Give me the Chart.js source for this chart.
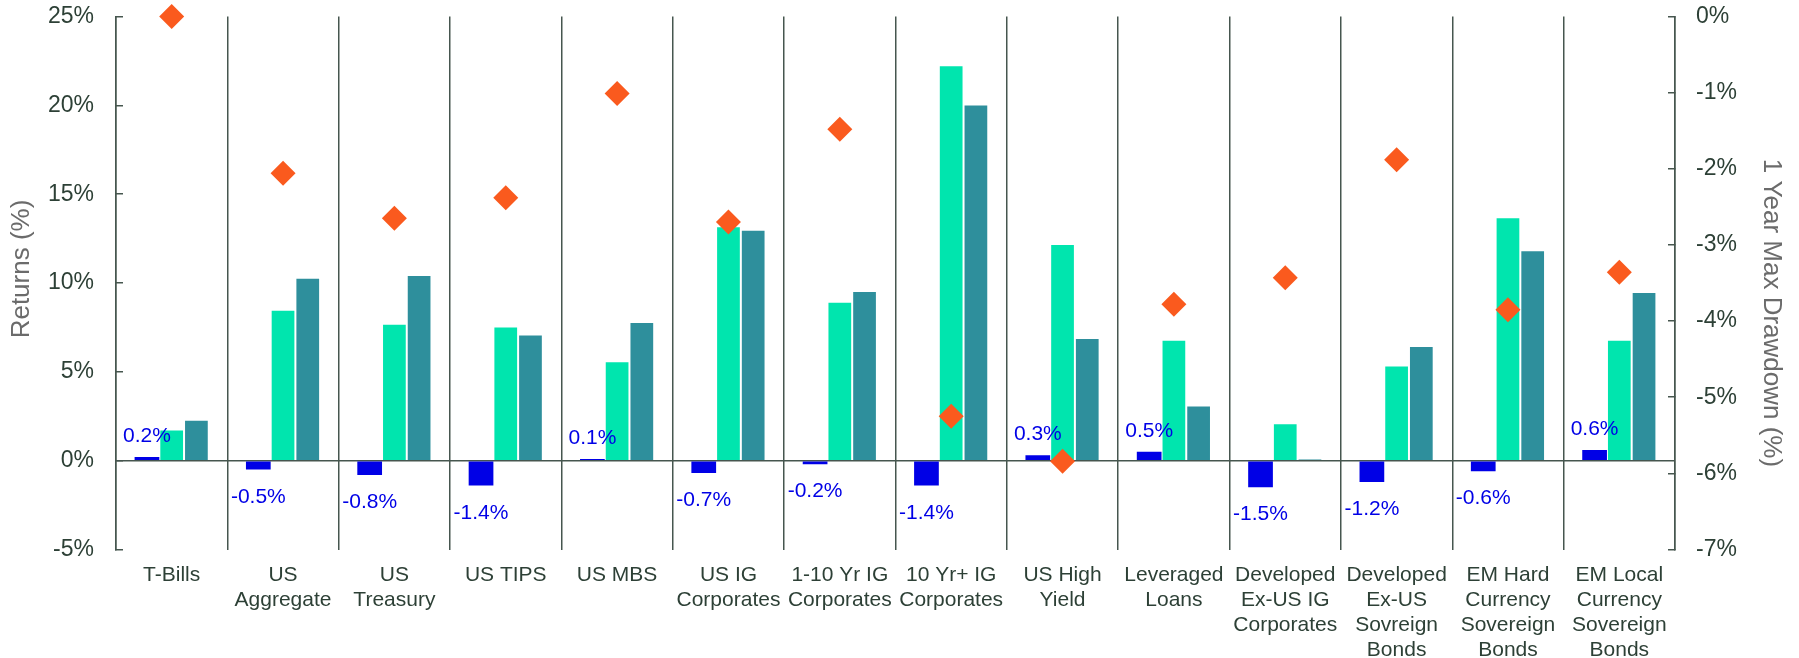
<!DOCTYPE html>
<html>
<head>
<meta charset="utf-8">
<script src="https://cdn.jsdelivr.net/npm/chart.js@4.4.1/dist/chart.umd.min.js"></script>
<style>
  html, body { margin: 0; padding: 0; background: #ffffff; }
  #wrap { width: 1799px; height: 658px; position: relative; }
</style>
</head>
<body>
<div id="wrap"><canvas id="chart" width="1799" height="658"></canvas></div>
<script>
// Asset classes along the category axis (multi-line labels)
const categories = [
  'T-Bills',
  ['US', 'Aggregate'],
  ['US', 'Treasury'],
  'US TIPS',
  'US MBS',
  ['US IG', 'Corporates'],
  ['1-10 Yr IG', 'Corporates'],
  ['10 Yr+ IG', 'Corporates'],
  ['US High', 'Yield'],
  ['Leveraged', 'Loans'],
  ['Developed', 'Ex-US IG', 'Corporates'],
  ['Developed', 'Ex-US', 'Sovreign', 'Bonds'],
  ['EM Hard', 'Currency', 'Sovereign', 'Bonds'],
  ['EM Local', 'Currency', 'Sovereign', 'Bonds']
];

// Returns (%), left axis
const returnsBlue  = [0.2, -0.5, -0.8, -1.4, 0.1, -0.7, -0.2, -1.4, 0.3, 0.5, -1.5, -1.2, -0.6, 0.6];
const returnsMint  = [1.75, 8.5, 7.7, 7.55, 5.6, 13.2, 8.95, 22.25, 12.2, 6.8, 2.1, 5.35, 13.7, 6.8];
const returnsTeal  = [2.3, 10.3, 10.45, 7.1, 7.8, 13.0, 9.55, 20.05, 6.9, 3.1, 0.1, 6.45, 11.85, 9.5];

// 1 Year Max Drawdown (%), right axis
const maxDrawdown  = [0.0, -2.06, -2.65, -2.38, -1.01, -2.70, -1.48, -5.25, -5.84, -3.78, -3.43, -1.88, -3.85, -3.36];

// Tick values for both value axes
const leftTickValues  = [-5, 0, 5, 10, 15, 20, 25];
const rightTickValues = [0, -1, -2, -3, -4, -5, -6, -7];

// Axis titles
const leftAxisTitle  = 'Returns (%)';
const rightAxisTitle = '1 Year Max Drawdown (%)';

const FONT = '"Liberation Sans", Arial, Helvetica, sans-serif';
const INK = '#2d4036';
const RULE = '#46564f';
const BLUE = '#0000e6';
const TITLE_GREY = '#6b6b6b';

Chart.defaults.font.family = FONT;

// Percentage labels above / below the first series' bars
const valueLabels = {
  id: 'valueLabels',
  afterDatasetsDraw(chart) {
    const meta = chart.getDatasetMeta(0);
    const ctx = chart.ctx;
    ctx.save();
    ctx.font = '21px ' + FONT;
    ctx.fillStyle = BLUE;
    ctx.textAlign = 'center';
    ctx.textBaseline = 'alphabetic';
    meta.data.forEach((bar, i) => {
      const v = returnsBlue[i];
      const y = v >= 0 ? bar.y - 15 : bar.y + 33;
      ctx.fillText(v.toFixed(1) + '%', bar.x, y);
    });
    ctx.restore();
  }
};

// Rotated axis titles, set slightly off the plot's vertical centre
const axisTitles = {
  id: 'axisTitles',
  afterDraw(chart) {
    const { ctx, chartArea } = chart;
    const mid = (chartArea.top + chartArea.bottom) / 2;
    ctx.save();
    ctx.font = '26px ' + FONT;
    ctx.fillStyle = TITLE_GREY;
    ctx.textAlign = 'center';
    ctx.textBaseline = 'middle';

    ctx.save();
    ctx.translate(22, mid - 14);
    ctx.rotate(-Math.PI / 2);
    ctx.fillText(leftAxisTitle, 0, 0);
    ctx.restore();

    ctx.save();
    ctx.translate(chart.width - 27.5, mid + 30);
    ctx.rotate(Math.PI / 2);
    ctx.fillText(rightAxisTitle, 0, 0);
    ctx.restore();

    ctx.restore();
  }
};

// Fixed axis box sizes; tick padding must not widen the plot margins
function fixWidth(w) {
  return s => { s.width = w; s.paddingTop = 0; s.paddingBottom = 0; };
}

new Chart(document.getElementById('chart'), {
  type: 'bar',
  data: {
    labels: categories,
    datasets: [
      { data: returnsBlue, backgroundColor: BLUE, borderWidth: 0, yAxisID: 'y' },
      { data: returnsMint, backgroundColor: '#00e5ae', borderColor: 'rgba(255,255,255,0.35)', borderWidth: 1, yAxisID: 'y' },
      { data: returnsTeal, backgroundColor: '#2e8f9c', borderColor: 'rgba(255,255,255,0.35)', borderWidth: 1, yAxisID: 'y' },
      {
        type: 'line', data: maxDrawdown, yAxisID: 'y2', showLine: false, order: -1, clip: false,
        pointStyle: 'rectRot', pointRadius: 12.5, pointHoverRadius: 12.5,
        pointBackgroundColor: '#fa5a1e', pointBorderWidth: 0,
        borderColor: '#fa5a1e', backgroundColor: '#fa5a1e'
      }
    ]
  },
  options: {
    responsive: false,
    animation: false,
    devicePixelRatio: 1,
    events: [],
    categoryPercentage: 0.666,
    barPercentage: 1.0,
    layout: { padding: { top: 16.5, left: 0, right: 0, bottom: 0 } },
    plugins: { legend: { display: false }, tooltip: { enabled: false } },
    scales: {
      x: {
        offset: true,
        grid: { offset: true, color: RULE, lineWidth: 1.5, drawTicks: false },
        border: { display: false },
        ticks: {
          font: { size: 21 }, color: INK, padding: 13,
          maxRotation: 0, minRotation: 0, autoSkip: false
        },
        afterFit(s) { s.height = 108.5; s.paddingLeft = 0; s.paddingRight = 0; }
      },
      y: {
        position: 'left', min: -5, max: 25,
        afterBuildTicks(s) { s.ticks = leftTickValues.map(v => ({ value: v })); },
        ticks: { font: { size: 23 }, color: INK, padding: 29, callback: v => v + '%' },
        grid: {
          color: c => (c.tick && c.tick.value === 0) ? RULE : 'rgba(0,0,0,0)',
          lineWidth: 1.5, drawTicks: true, tickLength: -7, tickColor: RULE, tickWidth: 1.5
        },
        border: { display: true, color: RULE, width: 1.5 },
        afterFit: fixWidth(116)
      },
      y2: {
        position: 'right', min: -7, max: 0,
        afterBuildTicks(s) { s.ticks = rightTickValues.map(v => ({ value: v })); },
        ticks: { font: { size: 23 }, color: INK, padding: 28, callback: v => v + '%' },
        grid: {
          drawOnChartArea: false, drawTicks: true, tickLength: -7,
          color: RULE, tickColor: RULE, tickWidth: 1.5, lineWidth: 1.5
        },
        border: { display: true, color: RULE, width: 1.5 },
        afterFit: fixWidth(124)
      }
    }
  },
  plugins: [valueLabels, axisTitles]
});
</script>
</body>
</html>
